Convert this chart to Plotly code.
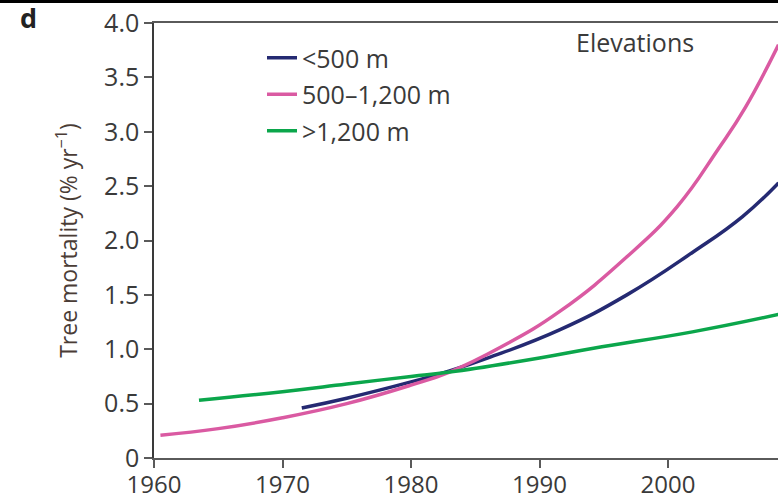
import plotly.graph_objects as go

# Data (tree mortality, % per year)
years_low = [1971.5, 1975, 1980, 1983, 1986, 1991.6, 1996.8, 2001.9, 2005.8, 2008.6]
mort_low = [0.46, 0.55, 0.70, 0.80, 0.92, 1.18, 1.50, 1.89, 2.22, 2.53]

years_mid = [1960.5, 1965, 1970, 1975, 1980, 1983, 1987, 1991.6, 1996.8, 2000.7, 2003.9, 2006, 2008.6]
mort_mid = [0.21, 0.27, 0.37, 0.50, 0.67, 0.79, 1.02, 1.35, 1.85, 2.31, 2.84, 3.22, 3.80]

years_high = [1963.5, 1970, 1975, 1980, 1983, 1990, 1994.2, 2001.9, 2008.6]
mort_high = [0.53, 0.61, 0.68, 0.75, 0.79, 0.92, 1.01, 1.16, 1.32]

series_names = ["<500 m", "500\u20131,200 m", ">1,200 m"]
series_colors = ["#252a72", "#da5aa2", "#0ba64b"]

y_tick_vals = [0, 0.5, 1.0, 1.5, 2.0, 2.5, 3.0, 3.5, 4.0]
y_tick_text = ["0", "0.5", "1.0", "1.5", "2.0", "2.5", "3.0", "3.5", "4.0"]
x_tick_vals = [1960, 1970, 1980, 1990, 2000, 2010]

FONT = "Open Sans"
TXT = "#3a3a3a"

fig = go.Figure()
for i, (xs, ys) in enumerate([(years_low, mort_low), (years_mid, mort_mid), (years_high, mort_high)]):
    fig.add_trace(go.Scatter(
        x=xs, y=ys, mode="lines", name=series_names[i],
        line=dict(color=series_colors[i], width=3.5, shape="spline", smoothing=1.3),
        legendgroup=f"g{i}", hoverinfo="skip",
    ))

W, H = 778, 500
ml, mr, mt, mb = 154, 0, 23, 42
pw, ph = W - ml - mr, H - mt - mb

def px2paper_x(px):
    return (px - ml) / pw

def px2paper_y(py):
    return (H - mb - py) / ph

fig.update_layout(
    width=W, height=H,
    margin=dict(l=ml, r=mr, t=mt, b=mb, pad=0, autoexpand=False),
    paper_bgcolor="white", plot_bgcolor="white",
    font=dict(family=FONT, color=TXT, size=25),
    showlegend=True,
    legend=dict(
        x=px2paper_x(262), y=px2paper_y(35), xanchor="left", yanchor="top",
        font=dict(family=FONT, size=25, color=TXT),
        bgcolor="rgba(0,0,0,0)", borderwidth=0,
        tracegroupgap=1, itemwidth=30,
    ),
    xaxis=dict(
        range=[1960, 2008.56], tickvals=x_tick_vals, automargin=False,
        showline=True, linecolor="#5a5a5a", linewidth=1.5, mirror=True,
        ticks="outside", ticklen=8, tickwidth=1.5, tickcolor="#5a5a5a",
        showgrid=False, zeroline=False, ticklabelstandoff=-4,
        tickfont=dict(family=FONT, size=24, color=TXT),
    ),
    yaxis=dict(
        range=[0, 4.0], tickvals=y_tick_vals, ticktext=y_tick_text, automargin=False,
        showline=True, linecolor="#3a3a3a", linewidth=1.5,
        ticks="outside", ticklen=8, tickwidth=1.5, tickcolor="#5a5a5a",
        showgrid=False, zeroline=False,
        tickfont=dict(family=FONT, size=25, color=TXT),
        title=dict(text="Tree mortality (% yr<sup>\u22121</sup>)",
                   font=dict(family=FONT, size=23, color="#4a3c36"), standoff=20),
    ),
    annotations=[
        dict(text="Elevations", xref="paper", yref="paper",
             x=px2paper_x(574), y=px2paper_y(42), xanchor="left", yanchor="middle",
             showarrow=False, font=dict(family=FONT, size=25, color=TXT)),
        dict(text="<b>d</b>", xref="paper", yref="paper",
             x=px2paper_x(18), y=px2paper_y(18), xanchor="left", yanchor="middle",
             showarrow=False, font=dict(family=FONT, size=27, color="#222222")),
    ],
    shapes=[
        dict(type="rect", xref="paper", yref="paper",
             x0=px2paper_x(0), x1=px2paper_x(W), y0=px2paper_y(3), y1=px2paper_y(0),
             fillcolor="black", line=dict(width=0), layer="above"),
    ],
)

fig.write_html("out.html", config={"displayModeBar": False},
               post_script="document.body.style.margin='0';")
